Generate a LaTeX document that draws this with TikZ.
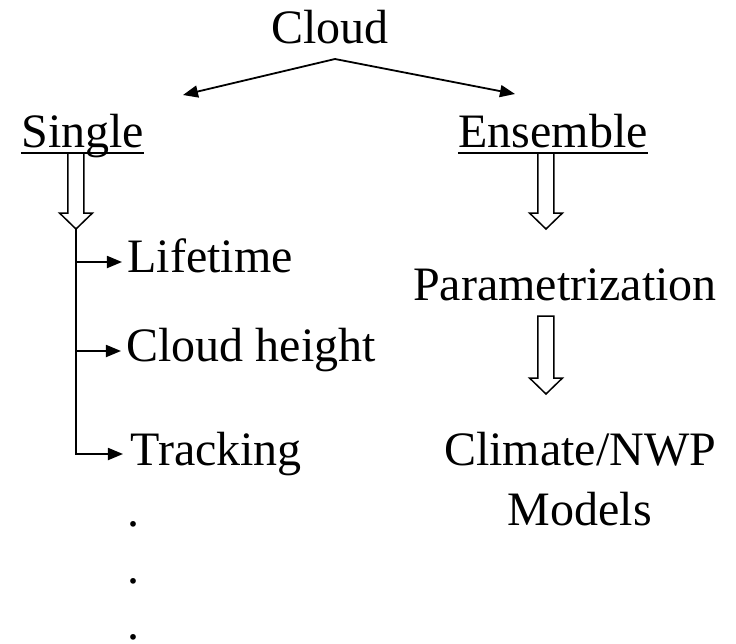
\documentclass[tikz,border=0pt]{standalone}
\usepackage{fontspec}
\setmainfont{Liberation Serif}
\usetikzlibrary{arrows.meta,calc}
\tikzset{
  lbl/.style={inner sep=0pt, font=\fontsize{24}{30}\selectfont},
  conn/.style={line width=0.9pt},
  tri/.style={-{Triangle[length=7.5pt,width=6pt]}},
  ul/.style={line width=1.4pt},
  hollow/.style={line width=0.75pt, fill=white, line join=miter},
}
\newcommand\hollowarrow[4]{%
  \draw[hollow] (#2-8,#3) -- (#2-8,#4-16) -- (#2-16.5,#4-16) -- (#2,#4) coordinate (#1)
    -- (#2+16.5,#4-16) -- (#2+8,#4-16) -- (#2+8,#3) -- cycle;}
\begin{document}
\begin{tikzpicture}[x=0.5pt,y=-0.5pt]
\useasboundingbox (0,0) rectangle (736,644);
% top
\node[lbl,anchor=base] (cloud) at (330,43) {Cloud};
\node[lbl,anchor=base west] (single) at (21,147) {Single};
\node[lbl,anchor=base west] (ensemble) at (458,147) {Ensemble};
\coordinate (apex) at (335,59);
\coordinate (tipL) at (183,95);
\coordinate (tipR) at (515,94);
\draw[conn,tri] (apex) -- (tipL);
\draw[conn,tri] (apex) -- (tipR);
% hollow arrows
\hollowarrow{sa}{76}{153}{229}
\hollowarrow{ea}{546}{153}{229}
\hollowarrow{pa}{546}{316}{394}
\draw[ul] ([yshift=-3pt]single.base west) -- ([yshift=-3pt]single.base east);
\draw[ul] ([yshift=-3pt]ensemble.base west) -- ([yshift=-3pt]ensemble.base east);
% left branch
\node[lbl,anchor=base west] (life) at (127,272) {Lifetime};
\node[lbl,anchor=base west] (height) at (126,361) {Cloud height};
\node[lbl,anchor=base west] (track) at (130,465) {Tracking};
\coordinate (tl) at ([shift={(-2.5pt,5pt)}]life.base west);
\coordinate (tc) at ([shift={(-2.5pt,5pt)}]height.base west);
\coordinate (tt) at ([shift={(-3.5pt,5.5pt)}]track.base west);
\draw[conn,tri] (sa |- tl) -- (tl);
\draw[conn,tri] (sa |- tc) -- (tc);
\draw[conn,tri] (sa) |- (tt);
\node[lbl,anchor=base west] (dot1) at (127,526) {.};
\node[lbl,anchor=base west] (dot2) at (127,583) {.};
\node[lbl,anchor=base west] (dot3) at (127,639) {.};
% right branch
\node[lbl,anchor=base] (param) at (565,300) {Parametrization};
\node[lbl,anchor=base,align=center] (climate) at (580,525) {Climate/NWP\\Models};
\end{tikzpicture}
\end{document}
